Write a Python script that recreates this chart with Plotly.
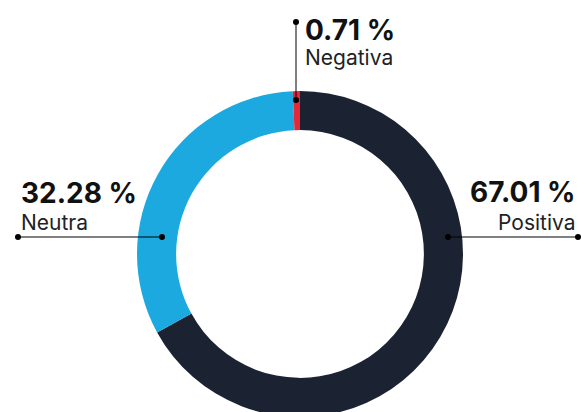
import plotly.graph_objects as go

W, H = 581, 417

labels = ["Positiva", "Neutra", "Negativa"]
values = [67.01, 32.28, 0.71]
colors = ["#1b2333", "#1ba9df", "#e52837"]

fig = go.Figure()
fig.add_trace(go.Pie(
    labels=labels, values=values, hole=0.76,
    sort=False, direction="clockwise", rotation=0,
    marker=dict(colors=colors, line=dict(width=0)),
    textinfo="none", hoverinfo="label+percent",
    domain=dict(x=[100 / W, 500 / W], y=[0, 326 / H]),
    showlegend=False,
))

def px(x):
    return x / W

def py(y):
    return 1 - y / H

# label layout: (x, y_value, y_label, align)
label_pos = {
    "Positiva": (578, 192, 222, "right"),
    "Neutra": (19, 193, 222, "left"),
    "Negativa": (303, 30, 57, "left"),
}
annotations = []
for lab, val in zip(labels, values):
    x, yv, yl, al = label_pos[lab]
    annotations.append(dict(
        x=px(x), y=py(yv), xref="paper", yref="paper", showarrow=False,
        xanchor=al, yanchor="middle", text=f"<b>{val:.2f} %</b>",
        font=dict(family="Inter", size=28, color="#111111", weight=800),
    ))
    annotations.append(dict(
        x=px(x), y=py(yl), xref="paper", yref="paper", showarrow=False,
        xanchor=al, yanchor="middle", text=lab,
        font=dict(family="Inter", size=21, color="#222222"),
    ))

# leader lines (pixel endpoints) and dots
leaders = [((448, 237), (578, 237)), ((162, 237), (18, 237)), ((296, 100), (296, 22))]
shapes = []
for (x0, y0), (x1, y1) in leaders:
    shapes.append(dict(type="line", xref="paper", yref="paper",
                       x0=px(x0), y0=py(y0), x1=px(x1), y1=py(y1),
                       line=dict(color="#000000", width=1)))
    for (cx, cy) in [(x0, y0), (x1, y1)]:
        shapes.append(dict(type="circle", xref="paper", yref="paper",
                           xsizemode="pixel", ysizemode="pixel",
                           xanchor=px(cx), yanchor=py(cy),
                           x0=-3, x1=3, y0=-3, y1=3,
                           fillcolor="#000000", line=dict(width=0)))

fig.update_layout(
    width=W, height=H,
    margin=dict(l=0, r=0, t=0, b=0),
    paper_bgcolor="#ffffff", plot_bgcolor="#ffffff",
    annotations=annotations, shapes=shapes,
)

fig.write_html(
    "out.html",
    config={"displayModeBar": False},
    post_script="document.body.style.margin='0px';document.body.style.overflow='hidden';",
)
